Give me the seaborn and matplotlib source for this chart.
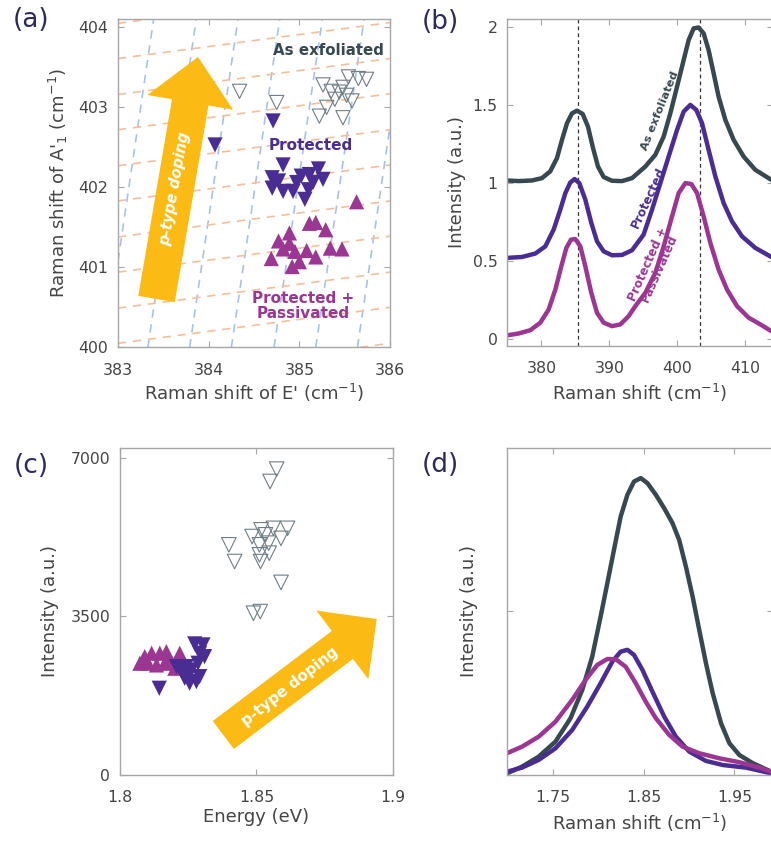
import numpy as np
import pandas as pd
import matplotlib
matplotlib.use('Agg')
import matplotlib.pyplot as plt
import matplotlib.patches as mpatches
from matplotlib.transforms import IdentityTransform
import seaborn as sns

# ---------------- colours ----------------
C_EXF = '#374850'
C_PROT = '#4a2d92'
C_PASS = '#9b3793'
C_OPEN = '#6f7e86'
C_ARROW = '#fbbb14'
C_STRAIN = '#a9c1ea'
C_DOPING = '#f6bf99'
C_LABEL = '#2c2a5e'
C_TEXT = '#444444'
C_SPINE = '#a6a6a6'

# ---------------- (a) Raman peak positions ----------------
exf_E = [384.34, 384.75, 385.26, 385.35, 385.44, 385.54, 385.65, 385.74,
         385.48, 385.58, 385.39, 385.30, 385.22, 385.48, 385.52]
exf_A = [403.20, 403.06, 403.28, 403.20, 403.19, 403.38, 403.36, 403.35,
         403.25, 403.08, 403.10, 403.00, 402.89, 402.87, 403.15]

prot_E = [384.07, 384.71, 384.82, 384.70, 384.70, 384.82, 384.93, 385.02,
          385.06, 385.11, 385.21, 385.26, 385.15, 384.97, 384.77, 385.10]
prot_A = [402.53, 402.83, 402.28, 402.12, 401.99, 401.95, 401.95, 402.14,
          401.85, 402.16, 402.23, 402.10, 402.06, 402.06, 402.08, 401.97]

pass_E = [385.63, 385.11, 385.18, 385.29, 384.89, 384.77, 384.89, 384.69,
          384.82, 384.95, 385.08, 385.18, 385.34, 385.47, 384.92, 385.00]
pass_A = [401.82, 401.55, 401.56, 401.47, 401.43, 401.33, 401.30, 401.11,
          401.23, 401.20, 401.21, 401.13, 401.24, 401.23, 401.01, 401.07]

# strain / doping reference lines
strain_x0 = [382.86, 383.33, 383.79, 384.25, 384.72, 385.18, 385.64, 386.10]
strain_dxdy = 0.13
doping_y0 = [399.60, 400.05, 400.49, 400.94, 401.38, 401.83, 402.27,
             402.72, 403.16, 403.61, 404.05]
doping_slope = 0.15

# ---------------- (b) Raman spectra ----------------
exf_raman_x = [374.96, 376.67, 378.63, 380.10, 381.30, 382.30, 383.04, 383.78,
               384.51, 385.25, 386.08, 386.86, 387.55, 388.33, 389.17, 390.39,
               391.86, 393.34, 395.29, 396.76, 397.99, 398.97, 399.96, 400.93,
               401.66, 402.40, 403.13, 403.87, 404.60, 405.34, 406.07, 407.06,
               408.28, 409.75, 411.47, 413.82]
exf_raman_y = [1.018, 1.014, 1.018, 1.033, 1.076, 1.161, 1.278, 1.385,
               1.448, 1.465, 1.444, 1.363, 1.235, 1.107, 1.040, 1.016,
               1.014, 1.033, 1.107, 1.182, 1.299, 1.448, 1.619, 1.789,
               1.917, 1.992, 1.998, 1.960, 1.853, 1.704, 1.555, 1.406,
               1.278, 1.171, 1.086, 1.022]

prot_raman_x = [374.96, 377.16, 379.12, 380.59, 381.81, 382.79, 383.53, 384.26,
                384.90, 385.59, 386.47, 387.35, 388.19, 389.17, 390.39, 391.86,
                393.34, 395.04, 396.28, 397.50, 398.72, 399.96, 400.93, 401.91,
                402.79, 403.63, 404.60, 405.59, 406.81, 408.04, 409.51, 411.47,
                413.82]
prot_raman_y = [0.522, 0.528, 0.550, 0.596, 0.703, 0.831, 0.937, 1.005,
                1.027, 1.001, 0.895, 0.746, 0.628, 0.564, 0.539, 0.541,
                0.571, 0.671, 0.831, 1.001, 1.171, 1.342, 1.459, 1.502,
                1.470, 1.385, 1.214, 1.044, 0.873, 0.756, 0.660, 0.586,
                0.528]

pass_raman_x = [374.96, 376.67, 378.38, 379.85, 381.08, 382.06, 382.94, 383.68,
                384.36, 385.00, 385.74, 386.47, 387.35, 388.19, 389.17, 390.39,
                391.62, 392.84, 393.82, 395.29, 396.76, 397.99, 399.22, 400.19,
                401.18, 402.06, 402.90, 403.87, 404.85, 406.07, 407.31, 408.78,
                410.49, 412.21, 413.82]
pass_raman_y = [0.026, 0.038, 0.059, 0.107, 0.192, 0.319, 0.468, 0.586,
                0.639, 0.643, 0.596, 0.468, 0.298, 0.170, 0.107, 0.085,
                0.096, 0.149, 0.213, 0.298, 0.426, 0.596, 0.788, 0.937,
                1.001, 0.995, 0.937, 0.788, 0.618, 0.447, 0.319, 0.213,
                0.139, 0.096, 0.053]

peak_lines = [385.35, 403.3]

# ---------------- (c) PL energy / intensity ----------------
exf_en = [1.8574, 1.8550, 1.8614, 1.8562, 1.8517, 1.8484, 1.8533, 1.8590, 1.8399,
          1.8511, 1.8545, 1.8420, 1.8511, 1.8547, 1.8515, 1.8590, 1.8489, 1.8514]
exf_int = [6750, 6477, 5443, 5443, 5410, 5262, 5300, 5222, 5079,
           5079, 5116, 4710, 4858, 4895, 4710, 4250, 3570, 3606]

prot_en = [1.8144, 1.8274, 1.8304, 1.8292, 1.8310, 1.8243, 1.8225, 1.8262,
           1.8286, 1.8237, 1.8255, 1.8280, 1.8292, 1.8207]
prot_int = [1914, 2893, 2871, 2687, 2612, 2392, 2318, 2318,
            2466, 2135, 2025, 2060, 2171, 2392]

pass_en = [1.8091, 1.8116, 1.8146, 1.8170, 1.8219, 1.8201, 1.8073, 1.8103,
           1.8134, 1.8164, 1.8085, 1.8180]
pass_int = [2612, 2687, 2687, 2723, 2687, 2356, 2466, 2466,
            2429, 2466, 2540, 2500]

# ---------------- (d) PL spectra ----------------
exf_pl_x = [1.6996, 1.7162, 1.7345, 1.7530, 1.7696, 1.7825, 1.7935, 1.8027,
            1.8101, 1.8174, 1.8248, 1.8322, 1.8395, 1.8469, 1.8543, 1.8635,
            1.8727, 1.8819, 1.8892, 1.8966, 1.9040, 1.9113, 1.9187, 1.9261,
            1.9353, 1.9445, 1.9555, 1.9703, 1.9906]
exf_pl_y = [0.010, 0.051, 0.112, 0.204, 0.347, 0.520, 0.724, 0.968,
            1.172, 1.376, 1.580, 1.713, 1.794, 1.815, 1.784, 1.713,
            1.631, 1.539, 1.437, 1.274, 1.091, 0.887, 0.683, 0.500,
            0.316, 0.194, 0.122, 0.072, 0.020]

prot_pl_x = [1.6996, 1.7162, 1.7345, 1.7530, 1.7714, 1.7880, 1.8027, 1.8156,
             1.8248, 1.8322, 1.8395, 1.8488, 1.8598, 1.8727, 1.8856, 1.9003,
             1.9187, 1.9372, 1.9629, 1.9906]
prot_pl_y = [0.020, 0.045, 0.092, 0.163, 0.275, 0.418, 0.561, 0.693,
             0.754, 0.765, 0.734, 0.642, 0.509, 0.357, 0.234, 0.143,
             0.086, 0.061, 0.045, 0.010]

pass_pl_x = [1.6996, 1.7162, 1.7345, 1.7530, 1.7714, 1.7861, 1.7991, 1.8101,
             1.8193, 1.8303, 1.8414, 1.8524, 1.8635, 1.8782, 1.8930, 1.9113,
             1.9334, 1.9555, 1.9776, 1.9906]
pass_pl_y = [0.133, 0.173, 0.234, 0.326, 0.459, 0.581, 0.673, 0.709,
             0.708, 0.662, 0.561, 0.448, 0.347, 0.245, 0.173, 0.133,
             0.102, 0.078, 0.045, 0.020]

# ---------------- style ----------------
sns.set_style('ticks')
plt.rcParams['font.family'] = ['DejaVu Sans']
plt.rcParams['mathtext.default'] = 'regular'
plt.rcParams.update({
    'xtick.direction': 'in', 'ytick.direction': 'in',
    'xtick.top': True, 'ytick.right': True,
    'xtick.major.size': 4, 'ytick.major.size': 4,
    'xtick.color': C_SPINE, 'ytick.color': C_SPINE,
    'xtick.labelcolor': C_TEXT, 'ytick.labelcolor': C_TEXT,
    'xtick.labelsize': 11.3, 'ytick.labelsize': 11.3,
    'axes.edgecolor': C_SPINE, 'axes.linewidth': 1.0,
    'axes.labelcolor': C_TEXT, 'axes.labelsize': 13,
})

fig = plt.figure(figsize=(7.71, 8.41), dpi=100)
ax_a = fig.add_axes([0.153, 0.587, 0.353, 0.390])
ax_b = fig.add_axes([0.658, 0.589, 0.344, 0.388])
ax_c = fig.add_axes([0.1556, 0.0785, 0.354, 0.389])
ax_d = fig.add_axes([0.658, 0.0785, 0.344, 0.389])

for ax in (ax_a, ax_b, ax_c, ax_d):
    ax.tick_params(axis='x', pad=11)
    ax.tick_params(axis='y', pad=7)

line_kw = dict(lw=3.2, sort=False, solid_joinstyle='round', solid_capstyle='round')

# ============ (a) ============
ax = ax_a
for x0 in strain_x0:
    ax.axline((x0, 400), (x0 + strain_dxdy, 401), color=C_STRAIN, lw=1.2,
              ls=(0, (5, 4)), zorder=1)
for y0 in doping_y0:
    ax.axline((383, y0), slope=doping_slope, color=C_DOPING, lw=1.2,
              ls=(0, (5, 4)), zorder=1)

sns.scatterplot(x=exf_E, y=exf_A, marker='v', s=105, facecolor='none',
                edgecolor=C_OPEN, linewidth=0.8, ax=ax, zorder=3)
sns.scatterplot(x=prot_E, y=prot_A, marker='v', s=120, color=C_PROT,
                edgecolor='none', ax=ax, zorder=3)
sns.scatterplot(x=pass_E, y=pass_A, marker='^', s=120, color=C_PASS,
                edgecolor='none', ax=ax, zorder=3)

ax.set_xlim(383, 386)
ax.set_ylim(400, 404.1)
ax.set_xticks([383, 384, 385, 386])
ax.set_yticks([400, 401, 402, 403, 404])
ax.set_xlabel("Raman shift of E' (cm$^{-1}$)", labelpad=3)
ax.set_ylabel("Raman shift of A$'_1$ (cm$^{-1}$)", labelpad=6)

ax.text(385.32, 403.71, 'As exfoliated', color=C_EXF, fontsize=10.8,
        weight='bold', ha='center', va='center', zorder=4)
ax.text(385.13, 402.52, 'Protected', color=C_PROT, fontsize=11,
        weight='bold', ha='center', va='center', zorder=4)
ax.text(385.04, 400.52, 'Protected +\nPassivated', color=C_PASS, fontsize=11,
        weight='bold', ha='center', va='center', linespacing=1.0, zorder=4)

# ============ (b) ============
ax = ax_b
for xl in peak_lines:
    ax.axvline(xl, color='#333333', lw=0.9, ls=(0, (3, 2.5)), zorder=1)
sns.lineplot(x=exf_raman_x, y=exf_raman_y, color=C_EXF, ax=ax, zorder=2, **line_kw)
sns.lineplot(x=prot_raman_x, y=prot_raman_y, color=C_PROT, ax=ax, zorder=2, **line_kw)
sns.lineplot(x=pass_raman_x, y=pass_raman_y, color=C_PASS, ax=ax, zorder=2, **line_kw)
ax.set_xlim(375, 414)
ax.set_ylim(-0.04, 2.05)
ax.set_xticks([380, 390, 400, 410])
ax.set_yticks([0, 0.5, 1, 1.5, 2])
ax.set_yticklabels(['0', '0.5', '1', '1.5', '2'])
ax.set_xlabel('Raman shift (cm$^{-1}$)', labelpad=4)
ax.set_ylabel('Intensity (a.u.)', labelpad=5)

ax.text(397.5, 1.465, 'As exfoliated', color=C_EXF, fontsize=8.2, weight='bold',
        rotation=68, ha='center', va='center', zorder=4)
ax.text(395.8, 0.905, 'Protected', color=C_PROT, fontsize=8.6, weight='bold',
        rotation=65, ha='center', va='center', zorder=4)
ax.text(396.5, 0.468, 'Protected +\nPassivated', color=C_PASS, fontsize=8.6,
        weight='bold', rotation=66, ha='center', va='center', linespacing=0.9, zorder=4)

# ============ (c) ============
ax = ax_c
sns.scatterplot(x=exf_en, y=exf_int, marker='v', s=110, facecolor='none',
                edgecolor=C_OPEN, linewidth=0.8, ax=ax, zorder=3)
sns.scatterplot(x=pass_en, y=pass_int, marker='^', s=120, color=C_PASS,
                edgecolor='none', ax=ax, zorder=3)
sns.scatterplot(x=prot_en, y=prot_int, marker='v', s=120, color=C_PROT,
                edgecolor='none', ax=ax, zorder=3)
ax.set_xlim(1.8, 1.9)
ax.set_ylim(0, 7220)
ax.set_xticks([1.8, 1.85, 1.9])
ax.set_xticklabels(['1.8', '1.85', '1.9'])
ax.set_yticks([0, 3500, 7000])
ax.set_xlabel('Energy (eV)', labelpad=2)
ax.set_ylabel('Intensity (a.u.)', labelpad=8)

# ============ (d) ============
ax = ax_d
sns.lineplot(x=exf_pl_x, y=exf_pl_y, color=C_EXF, ax=ax, **line_kw)
sns.lineplot(x=prot_pl_x, y=prot_pl_y, color=C_PROT, ax=ax, **line_kw)
sns.lineplot(x=pass_pl_x, y=pass_pl_y, color=C_PASS, ax=ax, **line_kw)
ax.set_xlim(1.70, 1.992)
ax.set_ylim(0, 2)
ax.set_xticks([1.75, 1.85, 1.95])
ax.set_yticks([1])
ax.set_yticklabels([])
ax.set_xlabel('Raman shift (cm$^{-1}$)', labelpad=5)
ax.set_ylabel('Intensity (a.u.)', labelpad=14)

# ---------------- doping arrows (display pixels, origin bottom-left) ----------------
H = 841
arrow_a = mpatches.FancyArrow(156.5, H - 299, 41.5, 242, width=37, head_width=87,
                              head_length=46, length_includes_head=True,
                              color=C_ARROW, lw=0, transform=IdentityTransform(), zorder=2)
fig.add_artist(arrow_a)
fig.text(175 / 771, 1 - 189 / H, 'p-type doping', color='white', fontsize=10.5,
         weight='bold', style='italic', rotation=80, ha='center', va='center', zorder=3)

arrow_c = mpatches.FancyArrow(223.3, H - 735, 153.4, 116, width=35, head_width=86,
                              head_length=43, length_includes_head=True,
                              color=C_ARROW, lw=0, transform=IdentityTransform(), zorder=2)
fig.add_artist(arrow_c)
fig.text(290 / 771, 1 - 687 / H, 'p-type doping', color='white', fontsize=10.8,
         weight='bold', rotation=38, ha='center', va='center', zorder=3)

# ---------------- panel labels ----------------
for lbl, px, py in [('(a)', 31, 20), ('(b)', 440, 22), ('(c)', 31, 466), ('(d)', 440, 465)]:
    fig.text(px / 771, 1 - py / H, lbl, color=C_LABEL, fontsize=19,
             ha='center', va='center')

fig.savefig('out.png', dpi=100, facecolor='white')
